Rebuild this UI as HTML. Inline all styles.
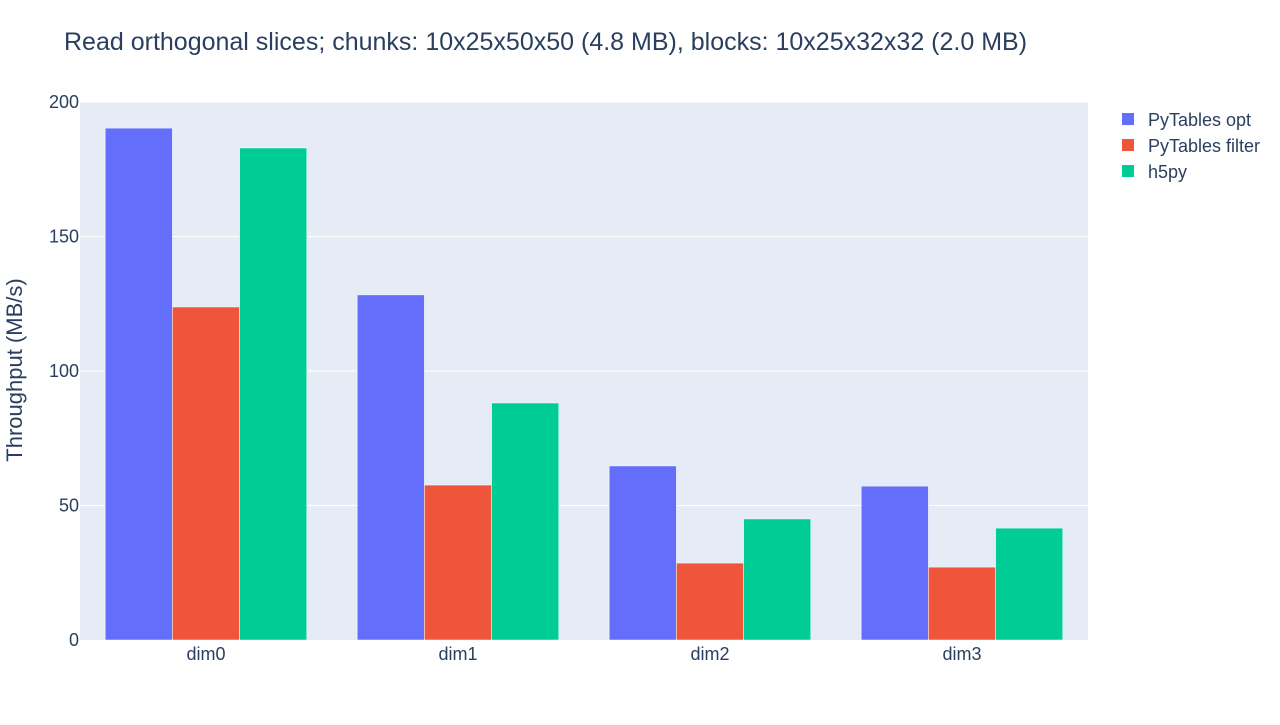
<!DOCTYPE html>
<html><head><meta charset="utf-8"><style>
body{margin:0;background:#fff;font-family:"Liberation Sans",Arial,sans-serif;}
svg text{font-family:"Liberation Sans",Arial,sans-serif;fill:#2a3f5f;}
</style></head><body>
<svg id="chart" width="1280" height="720">
<rect x="0" y="0" width="1280" height="720" fill="#fff"/>
<text x="64" y="50" font-size="25">Read orthogonal slices; chunks: 10x25x50x50 (4.8 MB), blocks: 10x25x32x32 (2.0 MB)</text>
<rect x="80" y="102" width="1008" height="538" fill="#e5ecf6"/>
<g id="grid"></g><g id="bars"></g><g id="axes"></g><g id="legend"></g>
<text transform="translate(22,370) rotate(-90)" text-anchor="middle" font-size="22">Throughput (MB/s)</text>
</svg>
<script>
const categories=["dim0","dim1","dim2","dim3"];
const seriesNames=["PyTables opt","PyTables filter","h5py"];
const optValues=[190.3,128.3,64.7,57.2];
const filterValues=[123.8,57.6,28.6,27.1];
const h5pyValues=[182.9,88.1,45.0,41.6];
const yTicks=[0,50,100,150,200];
const colors=["#636efa","#ef553b","#00cc96"];
const series=[optValues,filterValues,h5pyValues];
const NS="http://www.w3.org/2000/svg";
const X0=80,W=1008,Y0=640,H=538,YMAX=200;
const y=v=>Y0-v/YMAX*H;
const band=W/categories.length;
function mk(tag,attrs,parent){const e=document.createElementNS(NS,tag);for(const k in attrs)e.setAttribute(k,attrs[k]);document.getElementById(parent).appendChild(e);return e;}
yTicks.forEach(t=>{
 if(t>0){const l=mk('line',{x1:X0,x2:X0+W,y1:y(t),y2:y(t),stroke:'#fff','stroke-width':1},'grid');
 
 }
 const tx=mk('text',{x:X0-1,y:y(t)+6,'text-anchor':'end','font-size':18},'axes');tx.textContent=t;
 
 
});
const gw=band*0.8,bw=gw/3;
categories.forEach((c,i)=>{
 const gx=X0+band*i+(band-gw)/2;
 series.forEach((s,j)=>{
  const r=mk('rect',{x:gx+bw*j,y:y(s[i]),width:bw,height:Y0-y(s[i]),fill:colors[j],stroke:'#fff','stroke-width':0.5},'bars');
  
  
 });
 const tx=mk('text',{x:X0+band*(i+0.5),y:Y0+20,'text-anchor':'middle','font-size':18},'axes');tx.textContent=c;
 
 
});
seriesNames.forEach((n,j)=>{
 const ly=119+26*j;
 const r=mk('rect',{x:1122,y:ly-6,width:12,height:12,fill:colors[j]},'legend');
 
 
 const t=mk('text',{x:1148,y:ly+7,'font-size':18},'legend');t.textContent=n;
 
 
});
</script>
</body></html>
